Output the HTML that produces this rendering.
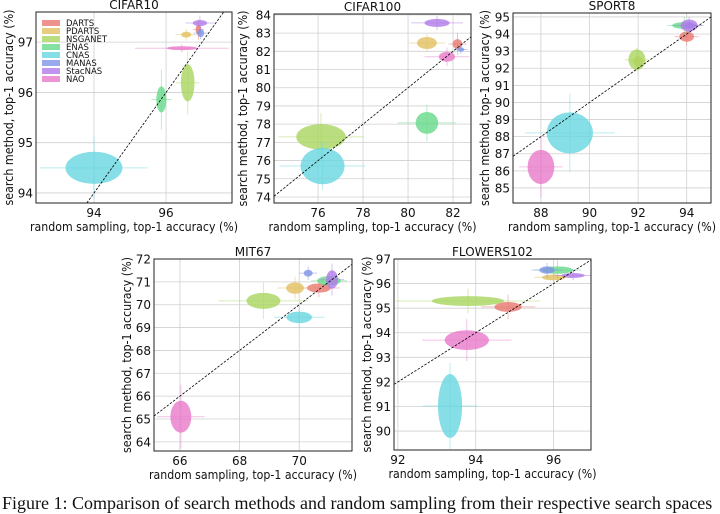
<!DOCTYPE html>
<html><head><meta charset="utf-8"><style>
body{margin:0;background:#fff;width:720px;height:502px;overflow:hidden;position:relative}
svg{position:absolute;left:0;top:0}
.cap{position:absolute;left:2px;top:493px;font-family:"Liberation Serif",serif;font-size:18px;white-space:nowrap;color:#111}
</style></head><body>
<svg id="fig" width="720" height="502" font-family="DejaVu Sans, Liberation Sans, sans-serif"></svg>
<div class="cap">Figure 1: Comparison of search methods and random sampling from their respective search spaces</div>
<script>
const methods=["DARTS","PDARTS","NSGANET","ENAS","CNAS","MANAS","StacNAS","NAO"];
const colors=["#e8776f","#e2c062","#a9d65f","#66d98a","#68d6e0","#7f93e6","#b07ae8","#e879c9"];
// CIFAR10
const c10x=[96.9,96.56,96.6,95.87,94.0,96.96,96.94,96.44];
const c10y=[97.25,97.15,96.19,95.86,94.5,97.18,97.38,96.88];
const c10sx=[0.08,0.14,0.19,0.14,0.79,0.1,0.2,0.42];
const c10sy=[0.1,0.06,0.37,0.26,0.32,0.08,0.06,0.04];
const c10ex=[0.15,0.3,0.33,0.28,1.5,0.2,0.4,1.3];
const c10ey=[0.2,0.12,0.63,0.6,0.62,0.12,0.15,0.08];
// CIFAR100
const c100x=[82.2,80.84,76.13,80.84,76.2,82.35,81.29,81.73];
const c100y=[82.4,82.46,77.3,78.07,75.7,82.1,83.56,81.7];
const c100sx=[0.22,0.44,1.1,0.5,0.98,0.15,0.56,0.36];
const c100sy=[0.27,0.33,0.7,0.6,1.0,0.12,0.22,0.27];
const c100ex=[0.4,0.8,1.9,1.3,1.9,0.3,1.15,1.0];
const c100ey=[0.6,0.5,1.3,1.0,1.3,0.25,0.4,0.5];
// SPORT8
const s8x=[94.0,92.0,91.95,93.9,89.19,94.1,94.1,88.0];
const s8y=[93.85,92.4,92.5,94.5,88.22,94.5,94.5,86.23];
const s8sx=[0.3,0.2,0.35,0.5,0.95,0.2,0.35,0.55];
const s8sy=[0.3,0.3,0.6,0.2,1.2,0.2,0.35,1.0];
const s8ex=[0.5,0.4,0.5,0.7,1.85,0.3,0.6,0.9];
const s8ey=[0.5,0.5,0.7,0.5,2.3,0.3,0.5,1.8];
// MIT67
const m67x=[70.66,69.86,68.8,71.0,70.0,70.3,71.1,66.03];
const m67y=[70.73,70.73,70.17,71.05,69.45,71.38,71.1,65.1];
const m67sx=[0.4,0.3,0.57,0.4,0.43,0.15,0.2,0.35];
const m67sy=[0.2,0.25,0.35,0.2,0.25,0.15,0.4,0.7];
const m67ex=[0.7,0.6,1.5,0.6,0.85,0.3,0.4,0.8];
const m67ey=[0.4,0.5,0.8,0.3,0.5,0.3,0.7,1.4];
// FLOWERS102
const f102x=[94.83,96.0,93.8,96.1,93.34,95.83,96.5,93.77];
const f102y=[95.05,96.25,95.29,96.55,91.02,96.55,96.33,93.7];
const f102sx=[0.35,0.3,0.93,0.4,0.31,0.2,0.3,0.57];
const f102sy=[0.2,0.12,0.2,0.15,1.3,0.15,0.1,0.4];
const f102ex=[0.7,0.5,1.86,0.6,0.7,0.4,0.5,1.15];
const f102ey=[0.5,0.3,0.5,0.4,1.75,0.3,0.2,0.85];
const c10xt=[94,96],c10yt=[94,95,96,97];
const c100xt=[76,78,80,82],c100yt=[74,75,76,77,78,79,80,81,82,83,84];
const s8xt=[88,90,92,94],s8yt=[85,86,87,88,89,90,91,92,93,94,95];
const m67xt=[66,68,70],m67yt=[64,65,66,67,68,69,70,71,72];
const f102xt=[92,94,96],f102yt=[90,91,92,93,94,95,96,97];

const NS="http://www.w3.org/2000/svg";
const fig=document.getElementById('fig');
function mk(tag,attrs,parent){const e=document.createElementNS(NS,tag);for(const k in attrs)e.setAttribute(k,attrs[k]);(parent||fig).appendChild(e);return e;}

function panel(key,title,box,dom,xs,ys,cx,cy,sx,sy,ex,ey,xt,yt,ylabX,legend){
  const g=mk('g',{});
  
  
  const [L,T,R,B]=box,[x0,x1,y0,y1]=dom;
  const X=v=>L+(v-x0)/(x1-x0)*(R-L);
  const Y=v=>B-(v-y0)/(y1-y0)*(B-T);
  const cid='clip-'+key;
  const cp=mk('clipPath',{id:cid},g);mk('rect',{x:L,y:T,width:R-L,height:B-T},cp);
  const grid=mk('g',{stroke:'#d0d0d0','stroke-width':0.8},g);
  
  
  xt.forEach(v=>{mk('line',{x1:X(v),x2:X(v),y1:T,y2:B},grid);
    const t=mk('text',{x:X(v),y:B+14,'text-anchor':'middle','font-size':12,fill:'#111'},g);t.textContent=v;
    
    });
  yt.forEach(v=>{mk('line',{x1:L,x2:R,y1:Y(v),y2:Y(v)},grid);
    const t=mk('text',{x:L-3,y:Y(v)+4.5,'text-anchor':'end','font-size':12,fill:'#111'},g);t.textContent=v;
    
    });
  const marks=mk('g',{'clip-path':'url(#'+cid+')'},g);
  cx.forEach((v,i)=>{
    const c=colors[i];
    const eb=mk('g',{stroke:c,'stroke-width':1,opacity:0.45},marks);
    
    
    mk('line',{x1:X(v-ex[i]),x2:X(v+ex[i]),y1:Y(cy[i]),y2:Y(cy[i])},eb);
    mk('line',{x1:X(v),x2:X(v),y1:Y(cy[i]-ey[i]),y2:Y(cy[i]+ey[i])},eb);
    const el=mk('ellipse',{cx:X(v),cy:Y(cy[i]),rx:Math.abs(X(v+sx[i])-X(v)),ry:Math.abs(Y(cy[i]+sy[i])-Y(cy[i])),fill:c,opacity:0.8},marks);
    
    
  });
  const lo=Math.max(x0,y0),hi=Math.min(x1,y1);
  const d=mk('line',{x1:X(lo),y1:Y(lo),x2:X(hi),y2:Y(hi),stroke:'#000','stroke-width':0.8,'stroke-dasharray':'2.5,1.5','clip-path':'url(#'+cid+')'},g);
  
  
  const fr=mk('rect',{x:L,y:T,width:R-L,height:B-T,fill:'none',stroke:'#222','stroke-width':1},g);
  
  
  const tt=mk('text',{x:(L+R)/2,y:T-3,'text-anchor':'middle','font-size':12,fill:'#111'},g);tt.textContent=title;
  
  
  const xl=mk('text',{x:(L+R)/2,y:B+28,'text-anchor':'middle','font-size':12,fill:'#111',textLength:208,lengthAdjust:'spacingAndGlyphs'},g);xl.textContent='random sampling, top-1 accuracy (%)';
  
  
  const yy=(T+B)/2;
  const yl=mk('text',{x:ylabX,y:yy,'text-anchor':'middle','font-size':12,fill:'#111',textLength:196,lengthAdjust:'spacingAndGlyphs',transform:'rotate(-90 '+ylabX+' '+yy+')'},g);yl.textContent='search method, top-1 accuracy (%)';
  
  
  if(legend){
    const lg=mk('g',{},g);
    
    
    methods.forEach((m,i)=>{
      const y=23+i*8;
      const e=mk('g',{},lg);
      
      
      mk('rect',{x:42,y:y-3,width:18,height:6,fill:colors[i],opacity:0.8},e);
      const t=mk('text',{x:66,y:y+3,'font-size':8.5,fill:'#111'},e);t.textContent=m;
    });
  }
}
panel('cifar10','CIFAR10',[36,12,232,203],[92.39,97.83,93.8,97.6],0,0,c10x,c10y,c10sx,c10sy,c10ex,c10ey,c10xt,c10yt,13,true);
panel('cifar100','CIFAR100',[274,14,471,203],[74.04,82.8,73.67,84.05],0,0,c100x,c100y,c100sx,c100sy,c100ex,c100ey,c100xt,c100yt,247,false);
panel('sport8','SPORT8',[513,13,711,203],[86.85,95.0,84.12,95.23],0,0,s8x,s8y,s8sx,s8sy,s8ex,s8ey,s8xt,s8yt,489,false);
panel('mit67','MIT67',[154,259,352,451],[65.13,71.77,63.6,72.0],0,0,m67x,m67y,m67sx,m67sy,m67ex,m67ey,m67xt,m67yt,131,false);
panel('flowers102','FLOWERS102',[394,259,591,450],[91.9,96.96,89.23,97.0],0,0,f102x,f102y,f102sx,f102sy,f102ex,f102ey,f102xt,f102yt,371,false);
</script>
</body></html>
